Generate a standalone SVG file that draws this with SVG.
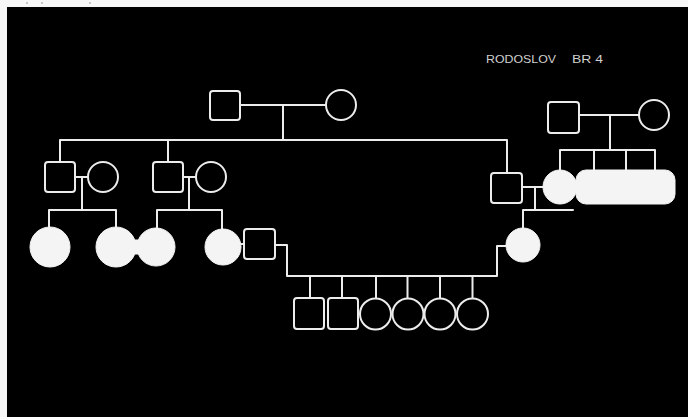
<svg xmlns="http://www.w3.org/2000/svg" width="688" height="417" viewBox="0 0 688 417">
<style>
.ln{fill:none;stroke:#ececec;stroke-width:2;stroke-linecap:round;stroke-linejoin:round}
.m{fill:#000;stroke:#ececec;stroke-width:2}
.f{fill:#f4f4f4;stroke:#f4f4f4;stroke-width:1}
.t{font-family:"Liberation Sans",Arial,sans-serif;font-size:11px;fill:#d0d0d0}
</style>
<rect x="0" y="0" width="688" height="417" fill="#f7f7f7"/>
<rect x="7" y="7" width="681" height="410" fill="#000"/>
<g fill="#888"><circle cx="27" cy="3" r="0.8"/><circle cx="42" cy="3" r="0.8"/><circle cx="90" cy="3" r="0.8"/></g>
<g id="title">
<text class="t" x="486" y="63" textLength="70" lengthAdjust="spacingAndGlyphs">RODOSLOV</text>
<text class="t" x="572" y="63" textLength="31" lengthAdjust="spacingAndGlyphs">BR 4</text>
</g>
<g id="connectors" class="ln">
<path d="M240,105H326M283,105V140"/>
<path d="M60,140H507M60,140V162M168,140V162M507,140V173"/>
<path d="M75,177H88M82,177V210M49,210H116M49,210V227M116,210V227"/>
<path d="M183,177H196M189,177V210M157,210H222M157,210V228M222,210V229"/>
<path d="M241,244H244M275,245H287V276H497V246H506"/>
<path d="M310,276V298M342,276V298M376,276V298M407.5,276V298M440,276V298M472.5,276V298"/>
<path d="M522,187H543M535,187V210M523,210H573M523,210V228"/>
<path d="M579,115H639M610,115V150M560,150H655M560,150V170M594,150V170M626,150V170M655,150V170"/>
</g>
<g id="I-1"><rect class="m" x="210" y="91" width="30" height="29" rx="3"/></g>
<g id="I-2"><circle class="m" cx="341" cy="105" r="15"/></g>
<g id="II-1"><rect class="m" x="45" y="162" width="30" height="30" rx="3"/></g>
<g id="II-1w"><circle class="m" cx="103" cy="177" r="15"/></g>
<g id="II-2"><rect class="m" x="153" y="162" width="30" height="30" rx="3"/></g>
<g id="II-2w"><circle class="m" cx="211" cy="177" r="15"/></g>
<g id="II-3"><rect class="m" x="491" y="173" width="31" height="30" rx="3"/></g>
<g id="R-1"><rect class="m" x="548" y="102" width="31" height="31" rx="3"/></g>
<g id="R-2"><circle class="m" cx="654" cy="115" r="15"/></g>
<g id="II-3w"><circle class="f" cx="560" cy="187" r="17"/></g>
<g id="R-sibs"><rect class="f" x="576" y="170" width="99" height="34" rx="10"/></g>
<g id="III-1"><circle class="f" cx="50" cy="247" r="20"/></g>
<g id="III-2"><circle class="f" cx="116" cy="247" r="20"/></g>
<g id="III-3"><circle class="f" cx="156" cy="247" r="19"/></g>
<rect class="f" x="133" y="240" width="7" height="14"/>
<g id="III-4"><circle class="f" cx="223" cy="247" r="18"/></g>
<g id="III-4h"><rect class="m" x="244" y="229" width="31" height="30" rx="3"/></g>
<g id="III-5"><circle class="f" cx="523" cy="245" r="17"/></g>
<g id="IV-1"><rect class="m" x="294" y="298" width="30" height="31" rx="3"/></g>
<g id="IV-2"><rect class="m" x="328" y="298" width="30" height="31" rx="3"/></g>
<g id="IV-3"><circle class="m" cx="375.5" cy="314" r="15.5"/></g>
<g id="IV-4"><circle class="m" cx="408" cy="314" r="15.5"/></g>
<g id="IV-5"><circle class="m" cx="440" cy="314" r="15.5"/></g>
<g id="IV-6"><circle class="m" cx="472.5" cy="314" r="15.5"/></g>
</svg>
